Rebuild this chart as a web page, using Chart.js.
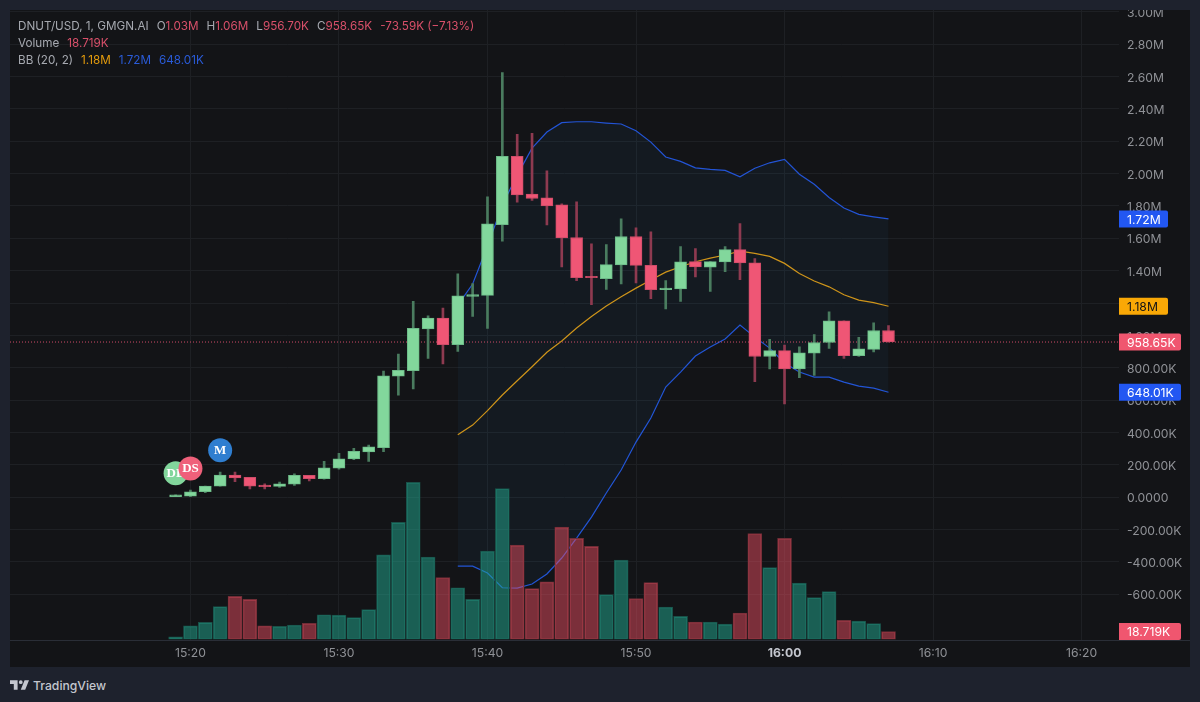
<!DOCTYPE html>
<html>
<head>
<meta charset="utf-8">
<title>DNUT/USD</title>
<script src="https://cdn.jsdelivr.net/npm/chart.js@4"></script>
<style>
  html, body { margin: 0; padding: 0; background: #1e222d; width: 1200px; height: 702px; overflow: hidden; }
  body { font-family: Inter, "Noto Sans", sans-serif; }
  #panel { position: absolute; left: 10px; top: 10px; width: 1180px; height: 657px; background: #131417; }
  #chart { position: absolute; left: 0; top: 0; }
  #axisLine { position: absolute; left: 10px; top: 640px; width: 1180px; height: 1px; background: #2a2e37; }
  #legend { position: absolute; left: 18px; top: 18px; font-size: 11.7px; line-height: 17px; color: #a6a9b0; white-space: nowrap; }
  #legend .row { height: 17px; }
  #legend .g { margin-left: 8px; }
  #legend .r { color: #d9506a; }
  #legend .o { color: #e59c0c; }
  #legend .b { color: #2a5bd8; }
  #brand { position: absolute; left: 10px; top: 678px; height: 14px; display: flex; align-items: center; color: #c4c7cf; font-size: 12.2px; font-weight: 500; }
  #brand svg { margin-right: 4px; }
</style>
</head>
<body>
<div id="panel"><canvas id="chart" width="1180" height="657"></canvas></div>
<div id="axisLine"></div>
<div id="legend">
  <div class="row">DNUT/USD, 1, GMGN.AI<span class="g">O</span><span class="r">1.03M</span><span class="g">H</span><span class="r">1.06M</span><span class="g">L</span><span class="r">956.70K</span><span class="g">C</span><span class="r">958.65K</span><span class="g r">-73.59K (−7.13%)</span></div>
  <div class="row">Volume<span class="g r">18.719K</span></div>
  <div class="row">BB (20, 2)<span class="g o">1.18M</span><span class="g b">1.72M</span><span class="g b">648.01K</span></div>
</div>
<div id="brand">
  <svg width="19" height="10" viewBox="2 6 30 15" fill="#c4c7cf"><path d="M14 6H2v6h6v9h6V6zm12 15h-7l6-15h7l-6 15zm-7-9a3 3 0 1 0 0-6 3 3 0 0 0 0 6z"/></svg>
  <span>TradingView</span>
</div>

<script>
// Minutes since midnight, one candle per minute (15:19 -> 16:07)
const times = [919, 920, 921, 922, 923, 924, 925, 926, 927, 928, 929, 930, 931, 932, 933, 934, 935,
  936, 937, 938, 939, 940, 941, 942, 943, 944, 945, 946, 947, 948, 949, 950, 951, 952, 953, 954,
  955, 956, 957, 958, 959, 960, 961, 962, 963, 964, 965, 966, 967];

// OHLC in thousands
const opens = [2, 6, 33, 68, 136, 122, 74, 66, 79, 134, 113, 178, 235, 279, 305, 748, 781,
  1039, 1107, 942, 1241, 1247, 1685, 2107, 1873, 1851, 1807, 1605, 1365, 1351, 1436, 1611, 1433, 1283, 1287, 1456,
  1421, 1454, 1530, 1448, 869, 905, 793, 890, 956, 1089, 875, 913, 1030];
const highs = [14, 43, 68, 155, 155, 122, 81, 93, 143, 134, 221, 271, 302, 322, 779, 884, 1210,
  1120, 1169, 1380, 1320, 1857, 2625, 2243, 2249, 2018, 1814, 1826, 1566, 1561, 1721, 1665, 1640, 1338, 1549, 1537,
  1456, 1549, 1691, 1475, 975, 940, 929, 1004, 1146, 1089, 987, 1078, 1060];
const lows = [2, 2, 27, 68, 95, 51, 51, 60, 72, 99, 110, 173, 231, 221, 281, 630, 669,
  857, 824, 900, 1117, 1043, 1582, 1823, 1834, 1683, 1423, 1338, 1190, 1284, 1318, 1324, 1227, 1163, 1210, 1361,
  1272, 1394, 1345, 713, 793, 576, 739, 752, 919, 857, 869, 897, 957];
const closes = [14, 33, 68, 136, 118, 68, 64, 82, 134, 113, 180, 237, 283, 310, 750, 783, 1043,
  1107, 942, 1245, 1252, 1690, 2107, 1869, 1846, 1801, 1603, 1357, 1357, 1437, 1611, 1433, 1283, 1293, 1454, 1423,
  1456, 1530, 1448, 869, 905, 793, 892, 956, 1089, 875, 917, 1030, 958.65];

// Volume in thousands
const volumes = [6, 32, 40, 77, 101, 94, 32, 31, 34, 38, 58, 57, 51, 70, 198, 274, 368,
  193, 145, 121, 94, 207, 353, 221, 119, 135, 263, 237, 218, 105, 186, 96, 133, 76, 54, 41,
  41, 36, 62, 248, 168, 237, 132, 98, 112, 45, 43, 37, 18.719];

// Bollinger bands (20, 2), 15:38 -> 16:07
const bbTimes = [938, 939, 940, 941, 942, 943, 944, 945, 946, 947, 948, 949, 950, 951, 952,
  953, 954, 955, 956, 957, 958, 959, 960, 961, 962, 963, 964, 965, 966, 967];
const bbUpper = [1187, 1317, 1552, 1806, 1991, 2158, 2257, 2315, 2321, 2321, 2313, 2307, 2265, 2195, 2103,
  2076, 2036, 2026, 2020, 1981, 2033, 2067, 2088, 1996, 1934, 1853, 1787, 1748, 1733, 1720];
const bbBasis = [385, 445, 534, 631, 719, 806, 895, 965, 1045, 1116, 1181, 1239, 1292, 1342, 1391,
  1424, 1455, 1478, 1497, 1521, 1507, 1488, 1445, 1383, 1336, 1300, 1251, 1218, 1202, 1180];
const bbLower = [-427, -427, -470, -561, -563, -538, -476, -377, -254, -124, 25, 167, 340, 489, 680,
  773, 872, 928, 977, 1064, 989, 921, 829, 773, 742, 742, 711, 686, 674, 648.01];

// Axis ticks
const priceTicks = [3000, 2800, 2600, 2400, 2200, 2000, 1800, 1600, 1400, 1200, 1000, 800, 600, 400, 200, 0, -200, -400, -600];
const priceLabels = ['3.00M', '2.80M', '2.60M', '2.40M', '2.20M', '2.00M', '1.80M', '1.60M', '1.40M', '1.20M', '1.00M',
  '800.00K', '600.00K', '400.00K', '200.00K', '0.0000', '-200.00K', '-400.00K', '-600.00K'];
const timeTicks = [920, 930, 940, 950, 960, 970, 980];
const timeLabels = ['15:20', '15:30', '15:40', '15:50', '16:00', '16:10', '16:20'];

// Event markers on the chart
const markerTimes = [919, 920, 922];
const markerPrices = [147, 177, 289];
const markerLabels = ['DL', 'DS', 'M'];
const markerColors = ['#82d69c', '#ef607a', '#2f7ed0'];

// Last price and its line
const lastPrice = 958.65;
const lineEnds = [907.85, 982.52];

const GREEN = '#82d79c', GREEN_EDGE = '#6dbb88', GREEN_WICK = '#4a7c5f';
const RED = '#ef5675', RED_EDGE = '#cf4c69', RED_WICK = '#8e3a50';
const isUp = i => closes[i] >= opens[i];
const pairs = (xs, ys) => xs.map((x, i) => ({ x: x, y: ys[i] }));
const isHour = ctx => ctx.tick && ctx.tick.value === 960;

// Price tags on the right axis
const tagPlugin = {
  id: 'tags',
  afterDraw(chart) {
    const ctx = chart.ctx;
    const y = chart.scales.y, y2 = chart.scales.y2;
    const tags = [
      { text: '1.72M', py: y.getPixelForValue(bbUpper[bbUpper.length - 1]), bg: '#2257f2', fg: '#ffffff', w: 49 },
      { text: '1.18M', py: y.getPixelForValue(bbBasis[bbBasis.length - 1]), bg: '#f9a806', fg: '#131417', w: 49 },
      { text: '958.65K', py: y.getPixelForValue(lastPrice), bg: '#f0566f', fg: '#ffffff', w: 62 },
      { text: '648.01K', py: y.getPixelForValue(bbLower[bbLower.length - 1]), bg: '#2257f2', fg: '#ffffff', w: 62 },
      { text: '18.719K', py: y2.getPixelForValue(volumes[volumes.length - 1]), bg: '#f0566f', fg: '#ffffff', w: 62 }
    ];
    const left = chart.chartArea.right;
    ctx.save();
    ctx.font = '12.2px Inter';
    ctx.textBaseline = 'middle';
    tags.forEach(t => {
      ctx.fillStyle = t.bg;
      ctx.beginPath();
      ctx.roundRect(left, t.py - 8.5, t.w, 17, [0, 2, 2, 0]);
      ctx.fill();
      ctx.fillStyle = t.fg;
      ctx.fillText(t.text, left + 8, t.py + 1);
    });
    ctx.restore();
  }
};

// DL / DS / M circles
const markerPlugin = {
  id: 'markers',
  afterDatasetsDraw(chart) {
    const ctx = chart.ctx;
    const x = chart.scales.x, y = chart.scales.y;
    ctx.save();
    ctx.textAlign = 'center';
    ctx.textBaseline = 'middle';
    ctx.font = 'bold 13px "Liberation Serif"';
    markerTimes.forEach((t, i) => {
      const px = x.getPixelForValue(t), py = y.getPixelForValue(markerPrices[i]);
      ctx.fillStyle = markerColors[i];
      ctx.beginPath();
      ctx.arc(px, py, 12, 0, Math.PI * 2);
      ctx.fill();
      ctx.fillStyle = '#ffffff';
      ctx.fillText(markerLabels[i], px, py);
    });
    ctx.restore();
  }
};

new Chart(document.getElementById('chart'), {
  data: {
    datasets: [
      // Band lines, under the volume bars
      { type: 'line', label: 'Upper', data: pairs(bbTimes, bbUpper), yAxisID: 'y', order: 6,
        borderColor: '#2354d6', borderWidth: 1.2, pointRadius: 0, tension: 0,
        fill: { target: 1 }, backgroundColor: 'rgba(33, 150, 243, 0.05)' },
      { type: 'line', label: 'Lower', data: pairs(bbTimes, bbLower), yAxisID: 'y', order: 6,
        borderColor: '#2354d6', borderWidth: 1.2, pointRadius: 0, tension: 0, fill: false },
      { type: 'line', label: 'Basis', data: pairs(bbTimes, bbBasis), yAxisID: 'y', order: 6,
        borderColor: '#d8940f', borderWidth: 1.2, pointRadius: 0, tension: 0, fill: false },
      // Volume
      { type: 'bar', label: 'Volume', data: pairs(times, volumes), yAxisID: 'y2', order: 5, grouped: false,
        barThickness: 14,
        backgroundColor: times.map((t, i) => isUp(i) ? 'rgba(34, 170, 146, 0.5)' : 'rgba(240, 78, 98, 0.47)'),
        borderColor: times.map((t, i) => isUp(i) ? '#1a5048' : '#6f2d36'),
        borderWidth: 1, borderSkipped: false },
      // Last price dotted line
      { type: 'line', label: 'Last', data: lineEnds.map(x => ({ x: x, y: lastPrice })), yAxisID: 'y', order: 3,
        borderColor: '#cf4c69', borderWidth: 1, borderDash: [1, 2], pointRadius: 0, fill: false },
      // Candle wicks and bodies
      { type: 'bar', label: 'Wicks', data: times.map((t, i) => ({ x: t, y: [lows[i], highs[i]] })), yAxisID: 'y', order: 2,
        grouped: false, barThickness: 2,
        backgroundColor: times.map((t, i) => isUp(i) ? GREEN_WICK : RED_WICK) },
      { type: 'bar', label: 'Bodies', data: times.map((t, i) => ({ x: t, y: [opens[i], closes[i]] })), yAxisID: 'y', order: 1,
        grouped: false, barThickness: 12,
        backgroundColor: times.map((t, i) => isUp(i) ? GREEN : RED),
        borderColor: times.map((t, i) => isUp(i) ? GREEN_EDGE : RED_EDGE),
        borderWidth: 1, borderSkipped: false }
    ]
  },
  options: {
    responsive: false,
    animation: false,
    events: [],
    layout: { padding: 0 },
    plugins: { legend: { display: false }, tooltip: { enabled: false } },
    scales: {
      x: {
        type: 'linear',
        offset: false,
        min: lineEnds[0],
        max: lineEnds[1],
        border: { display: false },
        grid: { color: '#1e2024', drawTicks: false, offset: false },
        afterBuildTicks: s => { s.ticks = timeTicks.map(v => ({ value: v })); },
        afterFit: s => { s.height = 27.5; s.paddingLeft = 0; s.paddingRight = 0; },
        ticks: {
          autoSkip: false,
          maxRotation: 0,
          padding: 7,
          color: ctx => isHour(ctx) ? '#c4c7cf' : '#8f9196',
          font: ctx => ({ family: 'Inter', size: 12.2, weight: isHour(ctx) ? 'bold' : 'normal' }),
          callback: (value, index) => timeLabels[index]
        }
      },
      y: {
        position: 'right',
        min: -881,
        max: 3012,
        border: { display: false },
        grid: { color: '#1e2024', drawTicks: false },
        afterBuildTicks: s => { s.ticks = priceTicks.map(v => ({ value: v })); },
        afterFit: s => { s.width = 71; s.paddingTop = 0; s.paddingBottom = 0; },
        ticks: {
          autoSkip: false,
          padding: 8,
          labelOffset: 1.5,
          color: '#8f9196',
          font: { family: 'Inter', size: 12.2 },
          callback: (value, index) => priceLabels[index]
        }
      },
      y2: { display: false, min: 0, max: 1473 }
    }
  },
  plugins: [markerPlugin, tagPlugin]
});
</script>
</body>
</html>
